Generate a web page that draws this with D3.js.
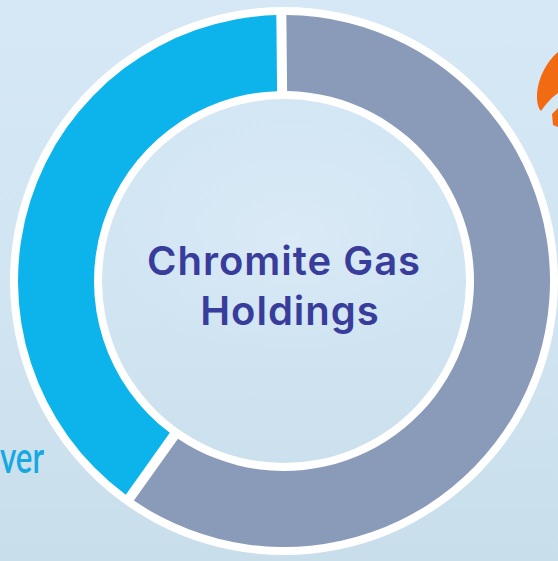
<!DOCTYPE html>
<html>
<head>
<meta charset="utf-8">
<script src="https://cdn.jsdelivr.net/npm/d3@7"></script>
<style>
html,body{margin:0;padding:0;overflow:hidden;}
svg{display:block;}
</style>
</head>
<body>
<div id="chart"></div>
<script>
// Data
const categories = ["Other", "Chromite Gas Holdings share"];
const values = [60, 40];
const colors = ["#8a9bb9", "#0db4ec"];
const centerLines = ["Chromite Gas", "Holdings"];

const W = 558, H = 561;
const cx = 284, cy = 281;
const outerR = 266, innerR = 190, border = 8, gap = 10;

const svg = d3.select("#chart").append("svg")
  .attr("width", W).attr("height", H);

const defs = svg.append("defs");
const bg = defs.append("linearGradient").attr("id", "bg")
  .attr("x1", 0).attr("y1", 0).attr("x2", 0).attr("y2", 1);
bg.append("stop").attr("offset", "0%").attr("stop-color", "#d6e8f6");
bg.append("stop").attr("offset", "55%").attr("stop-color", "#d0e4f2");
bg.append("stop").attr("offset", "100%").attr("stop-color", "#c9deeb");
const rg = defs.append("radialGradient").attr("id", "cloud")
  .attr("cx", 0.5).attr("cy", 0.5).attr("r", 0.5);
rg.append("stop").attr("offset", "0%").attr("stop-color", "#e0edf8").attr("stop-opacity", 0.6);
rg.append("stop").attr("offset", "100%").attr("stop-color", "#e0edf8").attr("stop-opacity", 0);

svg.append("rect").attr("width", W).attr("height", H).attr("fill", "url(#bg)");
svg.append("ellipse").attr("cx", 290).attr("cy", 240).attr("rx", 180).attr("ry", 120)
  .attr("fill", "url(#cloud)");

// Partial logo text at left
svg.append("text")
  .attr("x", 0).attr("y", 473)
  .attr("font-family", "Lato, 'Open Sans', sans-serif")
  .attr("font-size", 44)
  .attr("font-weight", 600)
  .attr("textLength", 44)
  .attr("lengthAdjust", "spacingAndGlyphs")
  .attr("fill", "#14a9e3")
  .text("ver");

// Partial orange logo at top right
svg.append("path")
  .attr("d", "M558,52 C546,62 537,80 537,97 C537,104 539,109 541,111 C546,104 552,97 558,93 Z M552,114 L558,108 L558,127 L553,125 Z")
  .attr("fill", "#f26b12");

const g = svg.append("g").attr("transform", `translate(${cx},${cy})`);

// White ring behind the segments
g.append("path")
  .attr("d", d3.arc().innerRadius(innerR - border).outerRadius(outerR + border)
    .startAngle(0).endAngle(2 * Math.PI)())
  .attr("fill", "#ffffff");

const pie = d3.pie().sort(null).value(d => d)
  .startAngle(-0.01).endAngle(2 * Math.PI - 0.01);
const midR = (innerR + outerR) / 2;
const arc = d3.arc().innerRadius(innerR).outerRadius(outerR)
  .padRadius(midR).padAngle(gap / midR);

g.selectAll("path.seg")
  .data(pie(values))
  .enter().append("path")
  .attr("class", "seg")
  .attr("d", arc)
  .attr("fill", (d, i) => colors[i]);

// Center label
const label = g.append("text")
  .attr("text-anchor", "middle")
  .attr("font-family", "Inter, 'Open Sans', sans-serif")
  .attr("font-weight", 600)
  .attr("font-size", 40)
  .attr("letter-spacing", 1)
  .attr("fill", "#383c9a");
centerLines.forEach((t, i) => {
  label.append("tspan").attr("x", i === 1 ? 6 : 0).attr("y", -6 + i * 50).text(t);
});
</script>
</body>
</html>
